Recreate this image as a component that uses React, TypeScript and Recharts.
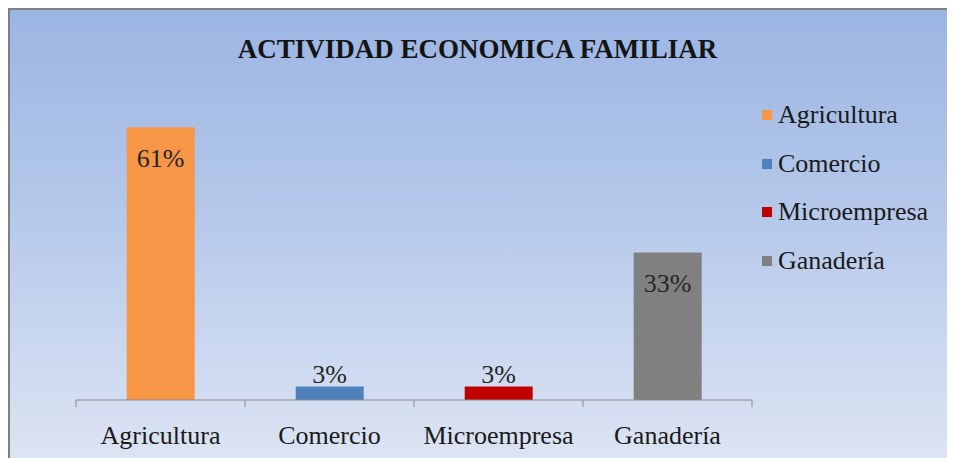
import { BarChart, Bar, XAxis, YAxis, Cell, LabelList } from 'recharts';

// datos
const categorias = ['Agricultura', 'Comercio', 'Microempresa', 'Ganadería'];
const porcentajes = [61, 3, 3, 33];
const colores = ['#F79646', '#4F81BD', '#C00000', '#808080'];

const data = categorias.map((nombre, i) => ({ nombre, valor: porcentajes[i] }));

const FONT =
  "'Times New Roman', 'Liberation Serif', Times, Tinos, 'Noto Serif', 'DejaVu Serif', FreeSerif, serif";
const BANDA = 169;

function TickCategoria(props: any) {
  const { x, y, payload, index } = props;
  return (
    <g>
      <line x1={x - BANDA / 2} y1={y - 8} x2={x - BANDA / 2} y2={y - 1} stroke="#8a8a8a" />
      {index === categorias.length - 1 && (
        <line x1={x + BANDA / 2} y1={y - 8} x2={x + BANDA / 2} y2={y - 1} stroke="#8a8a8a" />
      )}
      <text x={x} y={y + 36} textAnchor="middle" style={{ fontFamily: FONT }} fontSize={26} fill="#1a1a1a">
        {payload.value}
      </text>
    </g>
  );
}

function EtiquetaValor(props: any) {
  const { x, y, width, height, value } = props;
  const dentro = height > 40;
  return (
    <text
      x={x + width / 2}
      y={dentro ? y + 40 : y - 4}
      textAnchor="middle"
      style={{ fontFamily: FONT }}
      fontSize={26}
      fill="#262626"
    >
      {value}%
    </text>
  );
}

function Leyenda() {
  return (
    <div style={{ position: 'absolute', top: 81, left: 752, fontFamily: FONT, fontSize: 26, color: '#1a1a1a' }}>
      {categorias.map((c, i) => (
        <div key={c} style={{ display: 'flex', alignItems: 'center', height: 48.5, whiteSpace: 'nowrap' }}>
          <span style={{ width: 10, height: 10, background: colores[i], marginRight: 6, display: 'inline-block' }} />
          <span>{c}</span>
        </div>
      ))}
    </div>
  );
}

export default function App() {
  return (
    <div
      style={{
        position: 'relative',
        width: 945,
        height: 448,
        borderTop: '2px solid #7f7f7f',
        borderLeft: '2px solid #7f7f7f',
        background: 'linear-gradient(to bottom, #9BB5E3 0%, #B5C8EA 45%, #DCE4F3 100%)',
        overflow: 'hidden',
      }}
    >
      <div
        style={{
          position: 'absolute',
          top: 24,
          left: 0,
          width: 955 - 20,
          textAlign: 'center',
          fontFamily: FONT,
          fontWeight: 'bold',
          fontSize: 27,
          color: '#141414',
        }}
      >
        ACTIVIDAD ECONOMICA FAMILIAR
      </div>
      <BarChart
        width={945}
        height={448}
        data={data}
        margin={{ top: 77, right: 203, bottom: 18, left: 66 }}
        barCategoryGap="30%"
      >
        <XAxis
          dataKey="nombre"
          height={40}
          axisLine={{ stroke: '#8a8a8a' }}
          tickLine={false}
          tick={<TickCategoria />}
          interval={0}
        />
        <YAxis hide domain={[0, 70]} />
        <Bar dataKey="valor" isAnimationActive={false}>
          {data.map((d, i) => (
            <Cell key={d.nombre} fill={colores[i]} />
          ))}
          <LabelList dataKey="valor" content={<EtiquetaValor />} />
        </Bar>
      </BarChart>
      <Leyenda />
    </div>
  );
}
